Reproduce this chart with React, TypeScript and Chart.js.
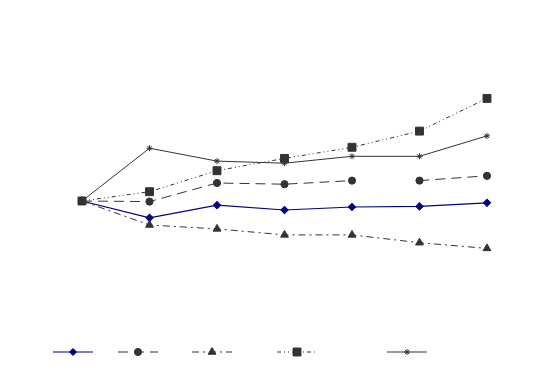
import React, { useEffect, useRef } from "react";
import { Chart, registerables } from "chart.js";
import { drawPoint } from "chart.js/helpers";

Chart.register(...registerables);

const categories = ["1", "2", "3", "4", "5", "6", "7"];
const seriesNames = ["Series 1", "Series 2", "Series 3", "Series 4", "Series 5"];
const diamondValues = [100, 94.4, 98.6, 97.0, 98.0, 98.2, 99.4];
const circleValues = [100, 99.8, 106.0, 105.6, 106.8, 106.8, 108.4];
const triangleValues = [100, 92.0, 90.7, 88.7, 88.7, 86.1, 84.2];
const squareValues = [100, 103.1, 110.1, 114.2, 117.9, 123.3, 134.2];
const starValues = [100, 117.6, 113.3, 112.6, 114.9, 114.9, 121.7];

const legendCenters = [73, 138, 212, 297, 407];

const legendPlugin = {
  id: "customLegend",
  afterDraw(chart: any) {
    const ctx = chart.ctx;
    const y = 352;
    chart.data.datasets.forEach((ds: any, i: number) => {
      const cx = legendCenters[i];
      ctx.save();
      ctx.strokeStyle = ds.borderColor;
      ctx.lineWidth = ds.borderWidth;
      ctx.setLineDash(ds.borderDash || []);
      ctx.beginPath();
      ctx.moveTo(cx - 20, y);
      ctx.lineTo(cx + 20, y);
      ctx.stroke();
      ctx.setLineDash([]);
      ctx.fillStyle = ds.pointBackgroundColor;
      ctx.strokeStyle = ds.pointBorderColor;
      ctx.lineWidth = 1;
      drawPoint(ctx, { pointStyle: ds.pointStyle, radius: ds.pointRadius, rotation: 0, borderWidth: 1 }, cx, y);
      ctx.restore();
    });
  },
};

export default function App() {
  const ref = useRef<HTMLCanvasElement>(null);
  useEffect(() => {
    document.body.style.margin = "0";
    const gray = "#333333";
    const navy = "#000080";
    const chart = new Chart(ref.current!, {
      type: "line",
      data: {
        labels: categories,
        datasets: [
          {
            label: seriesNames[0],
            data: diamondValues,
            borderColor: navy,
            borderWidth: 1.2,
            pointStyle: "rectRot",
            pointRadius: 3.5,
            pointBackgroundColor: navy,
            pointBorderColor: navy,
            borderDash: [],
            order: 4,
          },
          {
            label: seriesNames[1],
            data: circleValues,
            borderColor: gray,
            borderWidth: 1,
            borderDash: [10, 6],
            pointStyle: "circle",
            pointRadius: 3.6,
            pointBackgroundColor: gray,
            pointBorderColor: gray,
            order: 3,
            segment: {
              borderColor: (c: any) => (c.p0DataIndex === 4 ? "rgba(0,0,0,0)" : gray),
            },
          },
          {
            label: seriesNames[2],
            data: triangleValues,
            borderColor: gray,
            borderWidth: 1,
            borderDash: [7, 4, 2, 4],
            pointStyle: "triangle",
            pointRadius: 4.5,
            pointBackgroundColor: gray,
            pointBorderColor: gray,
            order: 2,
          },
          {
            label: seriesNames[3],
            data: squareValues,
            borderColor: gray,
            borderWidth: 1,
            borderDash: [4, 3, 1, 3, 1, 3],
            pointStyle: "rect",
            pointRadius: 5.6,
            pointBackgroundColor: gray,
            pointBorderColor: gray,
            order: 0,
          },
          {
            label: seriesNames[4],
            data: starValues,
            borderColor: gray,
            borderWidth: 1,
            borderDash: [],
            pointStyle: "star",
            pointRadius: 3,
            pointBackgroundColor: gray,
            pointBorderColor: gray,
            order: 1,
          },
        ],
      },
      options: {
        responsive: false,
        animation: false,
        layout: { padding: { left: 82, right: 48, top: 81, bottom: 52 } },
        scales: {
          x: { display: false, offset: false },
          y: { display: false, min: 60, max: 140 },
        },
        plugins: { legend: { display: false }, tooltip: { enabled: false } },
        elements: { line: { tension: 0 } },
        datasets: { line: { clip: false } as any },
      },
      plugins: [legendPlugin],
    });
    return () => chart.destroy();
  }, []);
  return <canvas ref={ref} width={535} height={373} style={{ display: "block" }} />;
}
